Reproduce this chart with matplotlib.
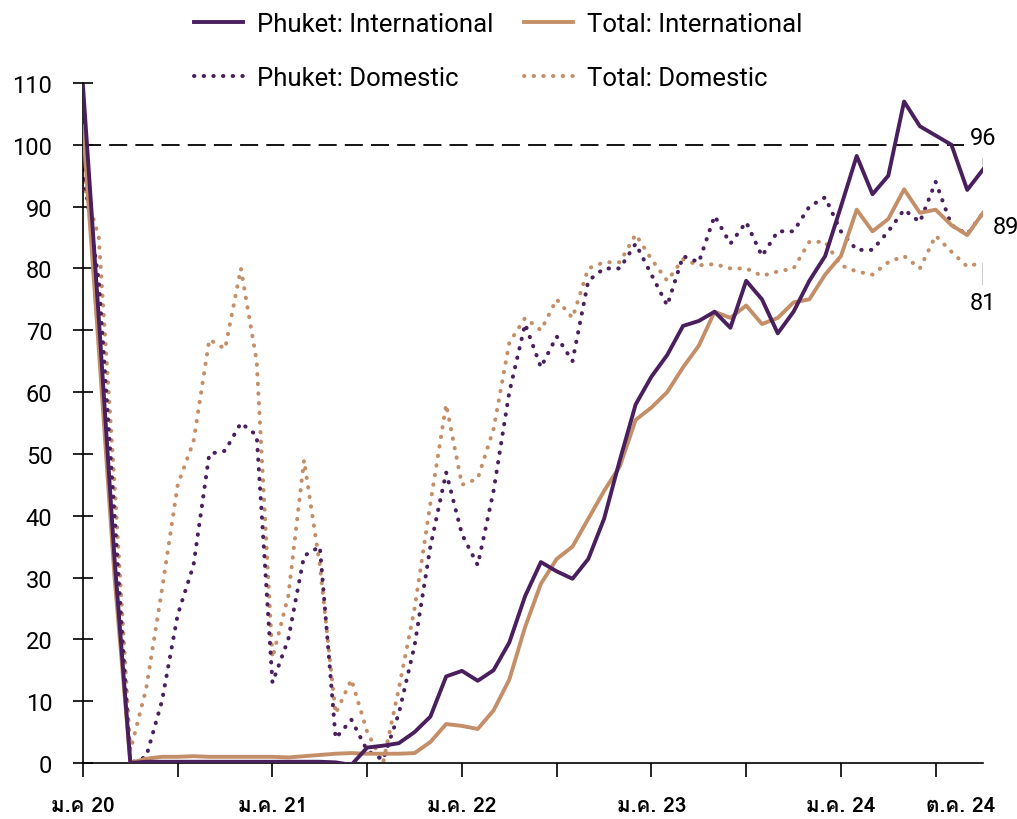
import matplotlib
matplotlib.use("Agg")
import matplotlib.pyplot as plt
import matplotlib.transforms as mtransforms
from matplotlib import font_manager
from matplotlib.ft2font import FT2Font
import numpy as np

# monthly index: 0 = Jan 2020 ... 57 = Oct 2024
months = np.arange(58)

phuket_intl = [109.5, 72, 33, 0, 0.2, 0.2, 0.2, 0.2, 0.2, 0.2, 0.2, 0.2,
               0.2, 0.2, 0.2, 0.2, 0.1, -0.3, 2.5, 2.8, 3.2, 5, 7.5, 14,
               14.9, 13.3, 15, 19.5, 27, 32.5, 31, 29.8, 33, 39.5, 49, 58,
               62.5, 66, 70.7, 71.5, 73, 70.4, 78, 75, 69.5, 73, 78, 82,
               90, 98.2, 92, 95, 107, 103, 101.5, 100, 92.7, 96]
total_intl = [103, 67, 30, 0, 0.7, 1, 1, 1.1, 1, 1, 1, 1,
              1, 0.9, 1.1, 1.3, 1.5, 1.6, 1.5, 1.5, 1.5, 1.6, 3.4, 6.3,
              6, 5.5, 8.5, 13.5, 22, 29, 33, 35, 39.5, 44, 48, 55.5,
              57.5, 60, 64, 67.5, 73, 72, 74, 71, 72, 74.5, 75, 79,
              82, 89.5, 86, 88, 92.8, 89, 89.5, 87, 85.4, 89]
phuket_dom = [96, 78, 40, 0, 1, 10, 24, 32, 50, 50.5, 55, 53,
              13, 20, 33.5, 35, 4, 7, 2, 0.5, 8, 19, 35, 47,
              37, 32, 44, 60, 71, 64, 69, 65, 78, 80, 80, 84,
              79, 74, 82, 81, 88.5, 84, 87.5, 82, 86, 86, 90, 91.5,
              86, 83, 83, 86, 89.5, 87.5, 94, 87, 85.5, 89]
total_dom = [94, 85, 45, 2, 12, 28, 45, 52, 68.5, 67, 80, 65,
             17, 27, 49, 32, 8, 13.5, 5, 0, 12, 25, 42, 58,
             45, 46, 54, 68, 72, 70, 75, 72, 80, 81, 81, 85.5,
             81.5, 78, 81.5, 80.5, 80.7, 80, 80, 78.8, 79.5, 80, 84.3, 84.3,
             80.5, 79.5, 79, 81, 82, 80, 85.3, 82.7, 80.3, 81]

tick_months = [0, 6, 12, 18, 24, 30, 36, 42, 48, 54]
label_months = [0, 12, 24, 36, 48, 55.6]
label_text = ["ม.ค 20", "ม.ค. 21", "ม.ค. 22", "ม.ค. 23", "ม.ค. 24", "ต.ค. 24"]

PURPLE = "#4a1f5e"
TAN = "#c48f68"


def find_thai_font():
    for f in font_manager.fontManager.ttflist:
        try:
            if ord("ม") in FT2Font(f.fname).get_charmap():
                return f.name
        except Exception:
            continue
    return None


base_fonts = ["Roboto", "DejaVu Sans"]
plt.rcParams["font.family"] = base_fonts
thai = find_thai_font()
thai_family = ([thai] if thai else []) + base_fonts

fig = plt.figure(figsize=(10.17, 8.2), dpi=100)
ax = fig.add_axes([0.0816, 0.0683, 0.885, 0.8293])

dot = (0, (0.1, 2.3))
ax.plot(months, total_dom, color=TAN, lw=2.9, linestyle=dot,
        dash_capstyle="round", label="Total: Domestic", zorder=2)
ax.plot(months, phuket_dom, color=PURPLE, lw=2.9, linestyle=dot,
        dash_capstyle="round", label="Phuket: Domestic", zorder=2)
ax.plot(months, total_intl, color=TAN, lw=2.8, label="Total: International",
        solid_joinstyle="round", zorder=3)
ax.plot(months, phuket_intl, color=PURPLE, lw=2.8, label="Phuket: International",
        solid_joinstyle="round", zorder=4)

# 100 reference line
ax.hlines(100, months[0], 55.8, colors="black", lw=1.3,
          linestyles=(0, (10, 4.5)), zorder=1)

ax.set_xlim(months[0], months[-1])
ax.set_ylim(0, 110)
ax.set_yticks(range(0, 111, 10))
ax.set_xticks(tick_months)
ax.set_xticklabels([])
ax.tick_params(axis="y", direction="inout", length=14, width=1.2, labelsize=17, pad=15)
ax.tick_params(axis="x", direction="out", length=10, width=1.2)
for s in ["top", "right"]:
    ax.spines[s].set_visible(False)
for s in ["left", "bottom"]:
    ax.spines[s].set_linewidth(1.2)

trans = mtransforms.blended_transform_factory(ax.transData, ax.transAxes)
for m, t in zip(label_months, label_text):
    ax.text(m, -0.062, t, transform=trans, ha="center", va="center",
            fontsize=15, fontweight="bold", family=thai_family)

# end labels
end = months[-1]
ax.text(end, 101.2, "%d" % round(phuket_intl[-1]), ha="center", va="center", fontsize=17)
ax.plot([end, end], [96.4, 97.8], color="black", lw=1)
ax.text(end + 0.6, total_intl[-1] - 2.2, "%d" % round(total_intl[-1]), ha="left",
        va="center", fontsize=17)
ax.plot([end, end], [77.5, 80.8], color="black", lw=1)
ax.text(end, 76.4, "%d" % round(total_dom[-1]), ha="center", va="top", fontsize=17)

h, l = ax.get_legend_handles_labels()
order = [3, 1, 2, 0]
fig.legend([h[i] for i in order], [l[i] for i in order], ncol=2,
           loc="upper center", bbox_to_anchor=(0.49, 1.012), frameon=False,
           fontsize=18.5, handlelength=1.9, labelspacing=1.15,
           columnspacing=1.2, handletextpad=0.55)

fig.savefig("out.png", dpi=100)
